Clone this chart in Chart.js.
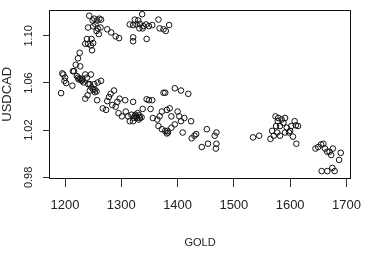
<!DOCTYPE html>
<html>
<head>
<meta charset="utf-8">
<script src="https://cdn.jsdelivr.net/npm/chart.js@4/dist/chart.umd.min.js"></script>
<style>
    body { margin: 0; background: #fff; }
    canvas { display: block; }
</style>
</head>
<body>
<canvas id="scatterChart" width="372" height="256"></canvas>
<script>
// values
const gold = [
    1243, 1252, 1261, 1249, 1257, 1264, 1241, 1250, 1254, 1258, 1263, 1256, 1260, 1275, 1282, 1290, 1296,
    1239, 1247, 1236, 1241, 1246, 1250, 1248, 1226, 1223, 1219, 1227, 1216,
    1337, 1324, 1330, 1315, 1321, 1327, 1333, 1339, 1344, 1349, 1355, 1332, 1338, 1366, 1375, 1385, 1379, 1368,
    1321, 1321, 1345,
    1193, 1195, 1197, 1199, 1200, 1202, 1213, 1214, 1221, 1224, 1227, 1230, 1233, 1236, 1239, 1241, 1244,
    1246, 1247, 1250, 1253, 1256, 1258, 1264, 1257, 1236, 1240, 1244, 1252, 1223, 1229, 1231, 1253,
    1267, 1273, 1275, 1278, 1281, 1284, 1287, 1290, 1293, 1295, 1297, 1301, 1307, 1308, 1312, 1318, 1321,
    1322, 1325, 1327, 1329, 1331, 1333, 1336, 1338, 1315, 1321, 1345, 1349, 1355, 1352, 1356, 1364, 1368,
    1375, 1378, 1372, 1381, 1386, 1389, 1395, 1406, 1419, 1366, 1372, 1378, 1383, 1389, 1395, 1400, 1403,
    1406, 1409, 1412, 1424, 1425, 1381, 1382, 1324, 1328, 1332,
    1430, 1433, 1443, 1452, 1454, 1466, 1469, 1469, 1468, 1534, 1545, 1565, 1568, 1574, 1579, 1585, 1591,
    1575, 1582, 1577, 1582, 1591, 1598, 1602, 1608, 1610, 1614, 1600, 1605, 1611, 1571, 1645, 1650, 1655,
    1659, 1662, 1666, 1670, 1673, 1676, 1690, 1687, 1656, 1666, 1675, 1679, 1588, 1594, 1578
];
const usdcad = [
    1.117, 1.1145, 1.1145, 1.113, 1.113, 1.1137, 1.107, 1.108, 1.1096, 1.1063, 1.107, 1.104, 1.1014, 1.1055, 1.1028, 1.0995, 1.098,
    1.0973, 1.0973, 1.0932, 1.0932, 1.0918, 1.0938, 1.0877, 1.0856, 1.0809, 1.0754, 1.0741, 1.07,
    1.1183, 1.1137, 1.113, 1.1096, 1.1091, 1.1096, 1.1101, 1.1082, 1.1096, 1.1082, 1.1091, 1.1063, 1.1063, 1.1137, 1.1055, 1.1091, 1.1041, 1.1063,
    1.0987, 1.0954, 1.0973,
    1.0514, 1.0681, 1.0672, 1.0618, 1.0645, 1.0599, 1.0577, 1.07, 1.0659, 1.0631, 1.0637, 1.0618, 1.0604, 1.0672, 1.0645, 1.059, 1.059,
    1.0672, 1.0563, 1.0544, 1.0522, 1.0528, 1.0604, 1.0618, 1.0454, 1.0467, 1.0495, 1.0536, 1.059, 1.0645, 1.0626, 1.0637, 1.0544,
    1.0385, 1.0372, 1.0446, 1.0481, 1.0508, 1.0413, 1.0536, 1.0399, 1.044, 1.0344, 1.0467, 1.0317, 1.0454, 1.0358, 1.0317, 1.0331, 1.044,
    1.0303, 1.0331, 1.0317, 1.0344, 1.029, 1.0303, 1.0309, 1.038, 1.0276, 1.0276, 1.0462, 1.0454, 1.0454, 1.038, 1.0303, 1.029, 1.0317,
    1.0517, 1.0517, 1.0358, 1.0372, 1.0385, 1.0317, 1.0555, 1.0536, 1.0508, 1.0235, 1.0208, 1.0194, 1.018, 1.0221, 1.0249, 1.0358, 1.0317,
    1.0276, 1.018, 1.0303, 1.0276, 1.0131, 1.0172, 1.0194, 1.0317, 1.0303, 1.0325,
    1.0153, 1.0167, 1.0057, 1.0208, 1.0085, 1.0153, 1.018, 1.0085, 1.0044, 1.0139, 1.0153, 1.0126, 1.0194, 1.0317, 1.0303, 1.029, 1.0303,
    1.0235, 1.0235, 1.018, 1.0153, 1.018, 1.018, 1.0235, 1.0276, 1.0241, 1.0235, 1.0194, 1.0145, 1.0085, 1.0153, 1.0044, 1.0057, 1.0079,
    1.0085, 1.0044, 1.0017, 1.0017, 0.9989, 1.0044, 1.0008, 0.9948, 0.9853, 0.9853, 0.988, 0.9853, 1.0262, 1.0221, 1.0276
];
const xTicks = [1200, 1300, 1400, 1500, 1600, 1700];
const yTicks = [0.98, 1.00, 1.02, 1.04, 1.06, 1.08, 1.10, 1.12];
const yLabelled = [0.98, 1.02, 1.06, 1.10];

const textColor = "#222";
const fontFamily = "'Liberation Sans', Arial, sans-serif";

// R-style box around the plot region
const boxPlugin = {
    id: "box",
    afterDraw(chart) {
        const a = chart.chartArea;
        const ctx = chart.ctx;
        ctx.save();
        ctx.strokeStyle = "#111";
        ctx.lineWidth = 1;
        ctx.strokeRect(Math.round(a.left) + 0.5, Math.round(a.top) + 0.5,
            Math.round(a.right - a.left) - 1, Math.round(a.bottom - a.top) - 1);
        ctx.restore();
    }
};

function drawChart() {
    const points = gold.map((g, i) => ({ x: g, y: usdcad[i] }));
    const ctx = document.getElementById("scatterChart").getContext("2d");

    new Chart(ctx, {
        type: "scatter",
        data: {
            datasets: [{
                data: points,
                pointStyle: "circle",
                pointRadius: 2.8,
                borderWidth: 1,
                borderColor: "#111",
                backgroundColor: "rgba(0,0,0,0)"
            }]
        },
        options: {
            responsive: false,
            animation: false,
            layout: { padding: { top: 4, right: 8, left: 0, bottom: 0 } },
            plugins: {
                legend: { display: false },
                tooltip: { enabled: false }
            },
            scales: {
                x: {
                    type: "linear",
                    min: 1171.5,
                    max: 1708.5,
                    afterBuildTicks: scale => { scale.ticks = xTicks.map(v => ({ value: v })); },
                    afterFit: scale => { scale.height = 77; },
                    grid: { drawOnChartArea: false, drawTicks: true, tickLength: 8, color: "#333" },
                    border: { display: false },
                    ticks: {
                        padding: 11,
                        maxRotation: 0,
                        color: textColor,
                        font: { family: fontFamily, size: 13 },
                        callback: v => String(v)
                    },
                    title: {
                        display: true,
                        text: "GOLD",
                        color: textColor,
                        padding: { top: 0, bottom: 6 },
                        font: { family: fontFamily, size: 11 }
                    }
                },
                y: {
                    type: "linear",
                    min: 0.9786,
                    max: 1.1222,
                    afterBuildTicks: scale => { scale.ticks = yTicks.map(v => ({ value: v })); },
                    afterFit: scale => { scale.width = 49; },
                    grid: { drawOnChartArea: false, drawTicks: true, tickLength: 6, color: "#333" },
                    border: { display: false },
                    ticks: {
                        minRotation: 90,
                        maxRotation: 90,
                        crossAlign: "center",
                        padding: 3,
                        color: textColor,
                        font: { family: fontFamily, size: 11 },
                        callback: v => yLabelled.some(t => Math.abs(t - v) < 1e-6) ? v.toFixed(2) : ""
                    },
                    title: {
                        display: true,
                        text: "USDCAD",
                        color: textColor,
                        padding: { top: 0, bottom: 0 },
                        font: { family: fontFamily, size: 13 }
                    }
                }
            }
        },
        plugins: [boxPlugin]
    });
}

window.onload = drawChart;
</script>
</body>
</html>
